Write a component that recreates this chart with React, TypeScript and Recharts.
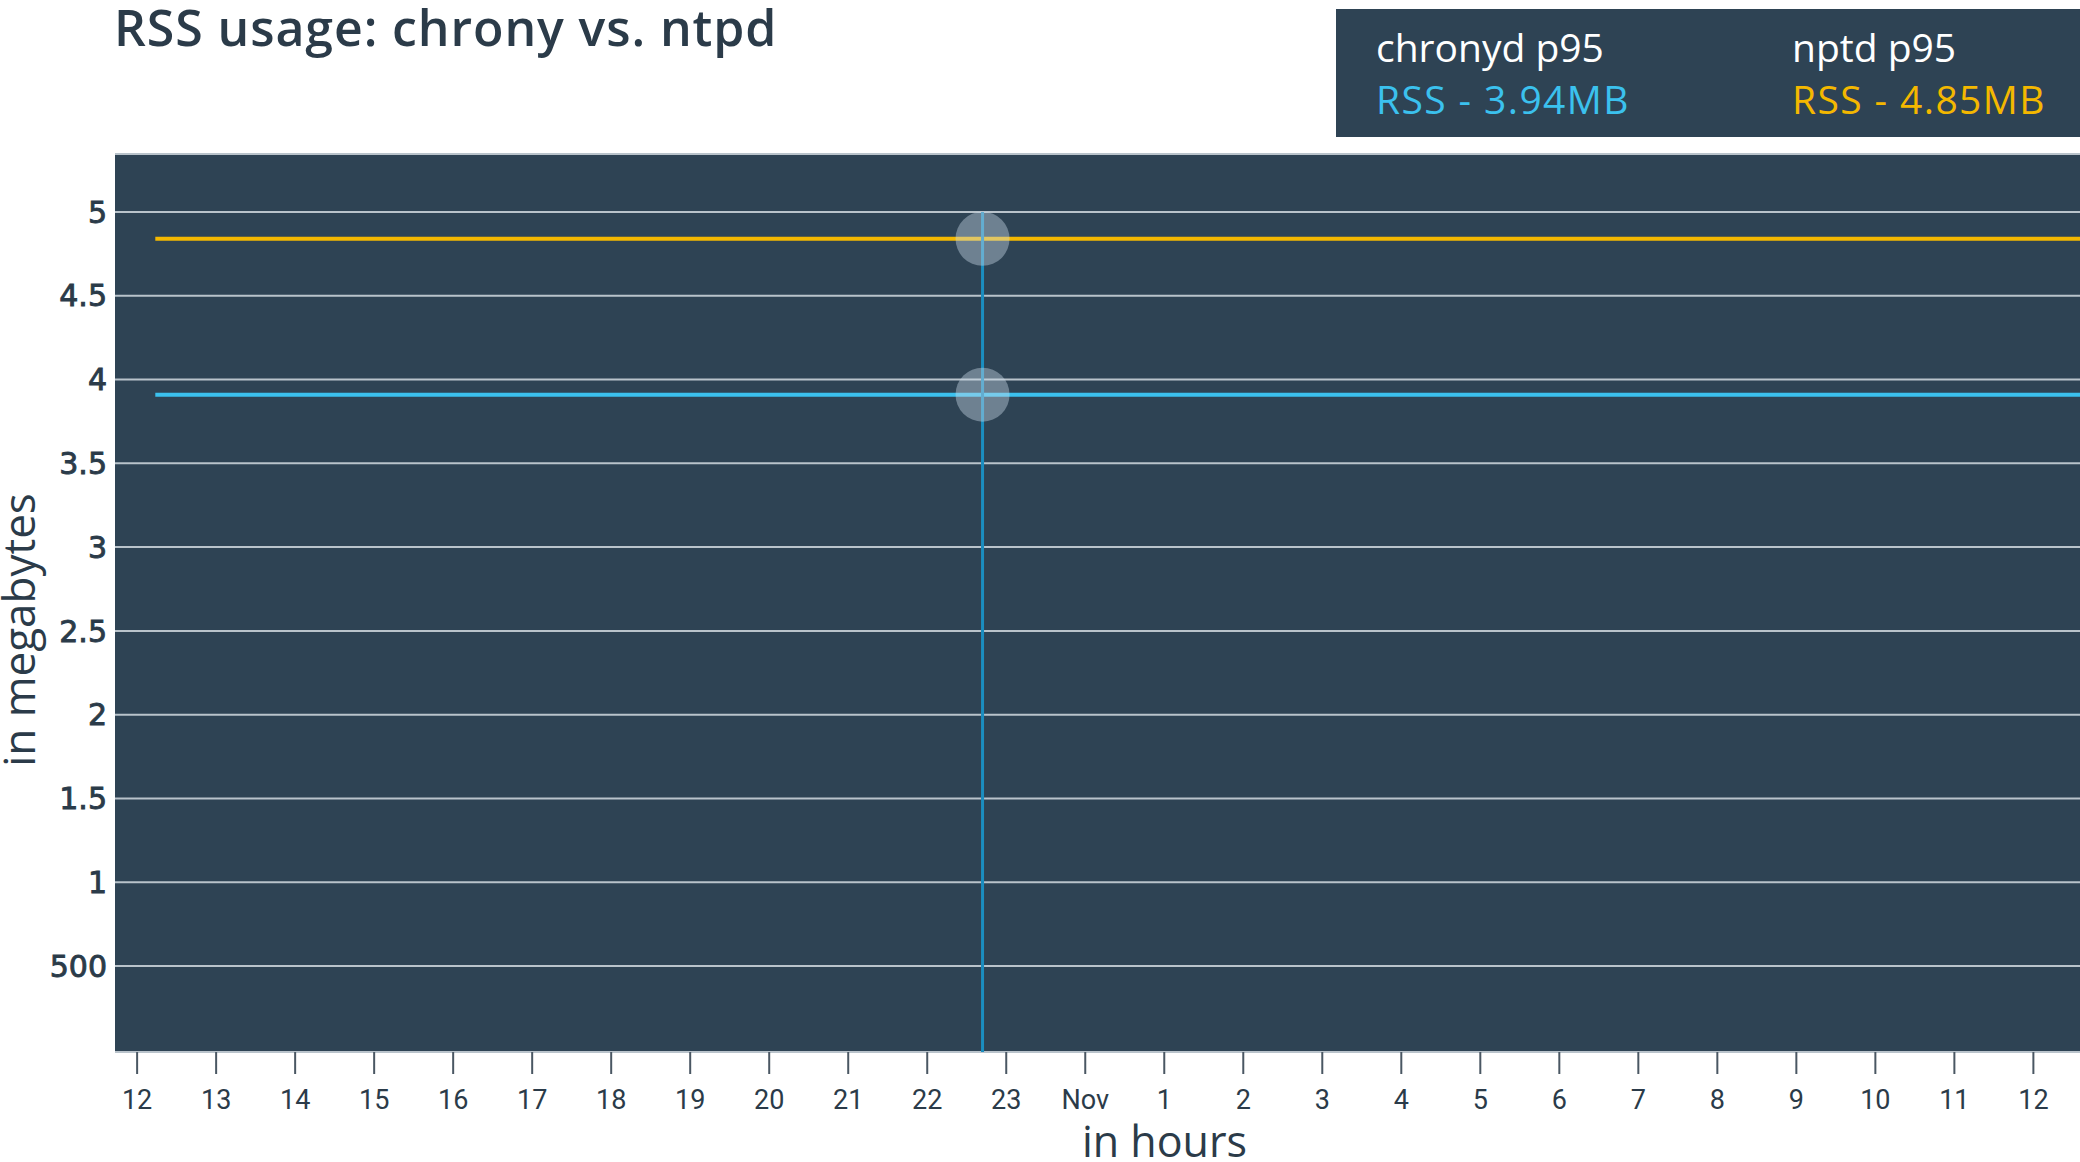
import React from 'react';
import {
  LineChart,
  Line,
  XAxis,
  YAxis,
  CartesianGrid,
  ReferenceLine,
  ReferenceDot,
  Label,
} from 'recharts';

// ---- data ----
const hours = [0.23, 2, 4, 6, 8, 10, 10.7, 12, 14, 16, 18, 20, 22, 24, 24.6];
const chronydRss = [3.91, 3.91, 3.91, 3.91, 3.91, 3.91, 3.91, 3.91, 3.91, 3.91, 3.91, 3.91, 3.91, 3.91, 3.91];
const ntpdRss = [4.84, 4.84, 4.84, 4.84, 4.84, 4.84, 4.84, 4.84, 4.84, 4.84, 4.84, 4.84, 4.84, 4.84, 4.84];

const xTicks = [0, 1, 2, 3, 4, 5, 6, 7, 8, 9, 10, 11, 12, 13, 14, 15, 16, 17, 18, 19, 20, 21, 22, 23, 24];
const xTickLabels = ['12', '13', '14', '15', '16', '17', '18', '19', '20', '21', '22', '23', 'Nov', '1', '2', '3', '4', '5', '6', '7', '8', '9', '10', '11', '12'];
const yTicks = [0.5, 1, 1.5, 2, 2.5, 3, 3.5, 4, 4.5, 5];
const yTickLabels = ['500', '1', '1.5', '2', '2.5', '3', '3.5', '4', '4.5', '5'];

const cursorHour = 10.7;
const chronydP95 = 'RSS - 3.94MB';
const ntpdP95 = 'RSS - 4.85MB';

const data = hours.map((h, i) => ({ h, chronyd: chronydRss[i], ntpd: ntpdRss[i] }));

const DARK = '#2e4354';
const TEXT = '#2b3b49';
const BLUE = '#3bc1ee';
const YELLOW = '#f4b800';
const FONT = '"Open Sans", Lato, sans-serif';

export default function App() {
  return (
    <div style={{ position: 'absolute', left: 0, top: 0, width: 2080, height: 1162, background: '#fff', overflow: 'hidden', fontFamily: FONT }}>
      <div style={{ position: 'absolute', left: 114, top: -2, fontSize: 50, fontWeight: 600, letterSpacing: 0.9, lineHeight: '58px', color: TEXT, whiteSpace: 'nowrap' }}>
        RSS usage: chrony vs. ntpd
      </div>

      <div style={{ position: 'absolute', left: 1336, top: 9, width: 760, height: 128, background: DARK }}>
        <div style={{ position: 'absolute', left: 40, top: 15, fontSize: 39, fontWeight: 500, lineHeight: '46px', color: '#ffffff', whiteSpace: 'nowrap' }}>chronyd p95</div>
        <div style={{ position: 'absolute', left: 40, top: 67, fontSize: 39, fontWeight: 500, letterSpacing: 1.4, lineHeight: '46px', color: BLUE, whiteSpace: 'nowrap' }}>{chronydP95}</div>
        <div style={{ position: 'absolute', left: 456, top: 15, fontSize: 39, fontWeight: 500, lineHeight: '46px', color: '#ffffff', whiteSpace: 'nowrap' }}>nptd p95</div>
        <div style={{ position: 'absolute', left: 456, top: 67, fontSize: 39, fontWeight: 500, letterSpacing: 1.4, lineHeight: '46px', color: YELLOW, whiteSpace: 'nowrap' }}>{ntpdP95}</div>
      </div>

      <div style={{ position: 'absolute', left: 18 - 200, top: 630 - 23, width: 400, height: 46, lineHeight: '46px', textAlign: 'center', fontSize: 44, fontWeight: 500, color: TEXT, transform: 'rotate(-90deg)', transformOrigin: '200px 23px', whiteSpace: 'nowrap' }}>
        in megabytes
      </div>

      <div style={{ position: 'absolute', left: 0, top: 0 }}>
        <LineChart width={2080} height={1162} data={data} margin={{ top: 154, right: 0, bottom: 0, left: 0 }}>
          <CartesianGrid vertical={false} fill={DARK} stroke="#b9c3cb" strokeWidth={2} />
          <XAxis
            dataKey="h"
            type="number"
            domain={[-0.28, 24.59]}
            allowDataOverflow
            ticks={xTicks}
            tickFormatter={(v: number) => xTickLabels[xTicks.indexOf(v)] ?? ''}
            height={110}
            axisLine={false}
            tickSize={22}
            tickMargin={16}
            tickLine={{ stroke: '#4a5763', strokeWidth: 2 }}
            tick={{ fill: TEXT, fontSize: 27, fontFamily: 'Roboto, sans-serif' }}
          >
            <Label value="in hours" position="insideBottom" offset={5} dx={67} style={{ fontSize: 43, fontWeight: 500, fill: TEXT, fontFamily: FONT }} />
          </XAxis>
          <YAxis
            type="number"
            domain={[-0.013, 5.346]}
            allowDataOverflow
            ticks={yTicks}
            tickFormatter={(v: number) => yTickLabels[yTicks.indexOf(v)] ?? ''}
            width={115}
            axisLine={false}
            tickLine={false}
            tickMargin={2}
            tick={{ fill: TEXT, stroke: TEXT, strokeWidth: 0.9, fontSize: 30, fontFamily: 'DejaVu Sans, sans-serif' }}
          />
          <Line type="linear" dataKey="ntpd" stroke={YELLOW} strokeWidth={4} dot={false} activeDot={false} isAnimationActive={false} />
          <Line type="linear" dataKey="chronyd" stroke={BLUE} strokeWidth={4} dot={false} activeDot={false} isAnimationActive={false} />
          <ReferenceDot x={cursorHour} y={4.84} r={27} fill="#c8d8e6" fillOpacity={0.42} stroke="none" />
          <ReferenceDot x={cursorHour} y={3.91} r={27} fill="#c8d8e6" fillOpacity={0.42} stroke="none" />
          <ReferenceLine segment={[{ x: cursorHour, y: 5 }, { x: cursorHour, y: -0.013 }]} stroke="#1b8ec0" strokeWidth={3} />
        </LineChart>
      </div>
    </div>
  );
}
